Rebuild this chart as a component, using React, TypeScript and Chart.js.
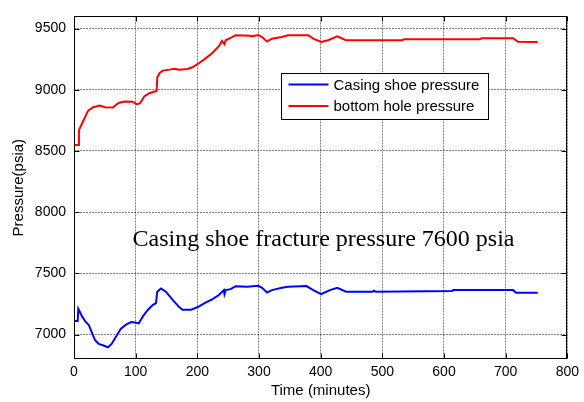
import React, { useEffect, useRef } from "react";
import { Chart, registerables } from "chart.js";

Chart.register(...registerables);

const xTickValues = [0, 100, 200, 300, 400, 500, 600, 700, 800];
const yTickValues = [7000, 7500, 8000, 8500, 9000, 9500];

const casingLabel = "Casing shoe pressure";
const casingTimes = [0, 6, 7, 9, 13, 18, 24, 29, 34, 40, 48, 55, 61, 69, 76, 85, 93, 101, 105, 112, 120, 128, 133, 135, 141, 149, 160, 171, 176, 190, 203, 214, 224, 235, 243, 244, 246, 254, 262, 281, 299, 305, 313, 321, 337, 347, 377, 388, 401, 415, 427, 441, 484, 487, 489, 613, 615, 712, 717, 752];
const casingValues = [7110, 7110, 7210, 7190, 7150, 7110, 7078, 7016, 6955, 6923, 6910, 6896, 6923, 6990, 7048, 7083, 7102, 7096, 7091, 7150, 7203, 7243, 7256, 7350, 7376, 7350, 7283, 7222, 7203, 7203, 7230, 7262, 7288, 7323, 7363, 7330, 7363, 7371, 7395, 7390, 7398, 7382, 7344, 7363, 7382, 7390, 7396, 7363, 7331, 7363, 7382, 7350, 7350, 7358, 7350, 7355, 7363, 7363, 7342, 7342];

const bottomLabel = "bottom hole pressure";
const bottomTimes = [0, 7, 8, 13, 23, 31, 42, 50, 63, 72, 82, 95, 102, 107, 114, 122, 132, 134, 135, 139, 144, 155, 163, 171, 184, 192, 203, 214, 224, 235, 240, 244, 246, 254, 262, 286, 288, 299, 305, 313, 321, 337, 347, 363, 380, 388, 401, 412, 427, 441, 532, 535, 658, 661, 712, 720, 752];
const bottomValues = [8550, 8550, 8670, 8725, 8830, 8858, 8872, 8858, 8855, 8893, 8905, 8903, 8880, 8890, 8945, 8972, 8988, 8990, 9100, 9138, 9157, 9165, 9172, 9165, 9170, 9184, 9219, 9259, 9299, 9357, 9400, 9372, 9405, 9424, 9445, 9442, 9437, 9448, 9432, 9394, 9418, 9432, 9446, 9446, 9446, 9418, 9392, 9405, 9437, 9405, 9405, 9413, 9413, 9421, 9421, 9392, 9390];

const annotationText = "Casing shoe fracture pressure 7600 psia";
const annotationAt = { x: 95, y: 7725 };

const xTitle = "Time (minutes)";
const yTitle = "Pressure(psia)";

const SANS = "'Liberation Sans', Arial, sans-serif";
const SERIF = "'Liberation Serif', 'Times New Roman', serif";

const framePlugin = {
  id: "matlabFrame",
  afterDraw(chart: any) {
    const { ctx, chartArea: a, scales } = chart;
    const L = Math.round(a.left) + 0.5;
    const R = Math.round(a.right) - 0.5;
    const T = Math.round(a.top) + 0.5;
    const B = Math.round(a.bottom) - 0.5;
    ctx.save();
    ctx.strokeStyle = "#000";
    ctx.lineWidth = 1;
    ctx.setLineDash([]);
    ctx.strokeRect(L, T, R - L, B - T);
    const tl = 5;
    ctx.beginPath();
    for (const v of xTickValues) {
      const px = Math.round(scales.x.getPixelForValue(v)) + 0.5;
      ctx.moveTo(px, B);
      ctx.lineTo(px, B - tl);
      ctx.moveTo(px, T);
      ctx.lineTo(px, T + tl);
    }
    for (const v of yTickValues) {
      const py = Math.round(scales.y.getPixelForValue(v)) + 0.5;
      ctx.moveTo(L, py);
      ctx.lineTo(L + tl, py);
      ctx.moveTo(R, py);
      ctx.lineTo(R - tl, py);
    }
    ctx.stroke();

    // annotation
    ctx.fillStyle = "#000";
    ctx.font = `24px ${SERIF}`;
    ctx.textAlign = "left";
    ctx.textBaseline = "alphabetic";
    ctx.fillText(
      annotationText,
      scales.x.getPixelForValue(annotationAt.x),
      scales.y.getPixelForValue(annotationAt.y)
    );

    // legend
    const bx = Math.round(a.left + 207) + 0.5;
    const by = Math.round(a.top + 57) + 0.5;
    const bw = 207;
    const bh = 46;
    ctx.fillStyle = "#fff";
    ctx.fillRect(bx, by, bw, bh);
    ctx.strokeStyle = "#000";
    ctx.strokeRect(bx, by, bw, bh);
    ctx.font = `15px ${SANS}`;
    ctx.textBaseline = "middle";
    chart.data.datasets.forEach((ds: any, i: number) => {
      const ly = by + 11 + i * 21.5;
      ctx.strokeStyle = ds.borderColor;
      ctx.lineWidth = 2;
      ctx.beginPath();
      ctx.moveTo(bx + 7, ly);
      ctx.lineTo(bx + 47, ly);
      ctx.stroke();
      ctx.fillStyle = "#000";
      ctx.fillText(ds.label, bx + 52, ly + 1);
    });
    ctx.restore();
  },
};

export default function App() {
  const ref = useRef<HTMLCanvasElement | null>(null);
  useEffect(() => {
    if (!ref.current) return;
    const chart = new Chart(ref.current, {
      type: "line",
      data: {
        datasets: [
          {
            label: casingLabel,
            data: casingTimes.map((t, i) => ({ x: t, y: casingValues[i] })),
            borderColor: "#0000ff",
            borderWidth: 2,
            pointRadius: 0,
            tension: 0,
            fill: false,
          },
          {
            label: bottomLabel,
            data: bottomTimes.map((t, i) => ({ x: t, y: bottomValues[i] })),
            borderColor: "#ff0000",
            borderWidth: 2,
            pointRadius: 0,
            tension: 0,
            fill: false,
          },
        ],
      },
      options: {
        responsive: false,
        animation: false,
        layout: { padding: { left: 0, top: 9, right: 12, bottom: 0 } },
        plugins: {
          legend: { display: false },
          tooltip: { enabled: false },
        },
        scales: {
          x: {
            type: "linear",
            min: 0,
            max: 800,
            afterBuildTicks: (s: any) => {
              s.ticks = xTickValues.map((v) => ({ value: v }));
            },
            afterFit: (s: any) => {
              s.height = 43;
            },
            ticks: {
              color: "#000",
              font: { family: SANS, size: 14 },
              padding: 5,
              maxRotation: 0,
              callback: (v: any) => String(v),
            },
            grid: {
              color: "rgba(0,0,0,0.5)",
              lineWidth: 1,
              drawTicks: false,
            },
            border: { display: false, dash: [2, 1] },
            title: {
              display: true,
              text: xTitle,
              color: "#000",
              font: { family: SANS, size: 15 },
              padding: { top: 0, bottom: 2 },
            },
          },
          y: {
            type: "linear",
            min: 6800,
            max: 9600,
            afterBuildTicks: (s: any) => {
              s.ticks = yTickValues.map((v) => ({ value: v }));
            },
            afterFit: (s: any) => {
              s.width = 74;
            },
            ticks: {
              color: "#000",
              font: { family: SANS, size: 14 },
              padding: 8,
              callback: (v: any) => String(v),
            },
            grid: {
              color: "rgba(0,0,0,0.5)",
              lineWidth: 1,
              drawTicks: false,
            },
            border: { display: false, dash: [2, 1] },
            title: {
              display: true,
              text: yTitle,
              color: "#000",
              font: { family: SANS, size: 15 },
              padding: { top: 10, bottom: 0 },
            },
          },
        },
      },
      plugins: [framePlugin],
    });
    return () => chart.destroy();
  }, []);
  return (
    <div style={{ position: "fixed", left: 0, top: 0, width: 584, height: 402, background: "#fff" }}>
      <canvas ref={ref} width={584} height={402} style={{ display: "block" }} />
    </div>
  );
}
